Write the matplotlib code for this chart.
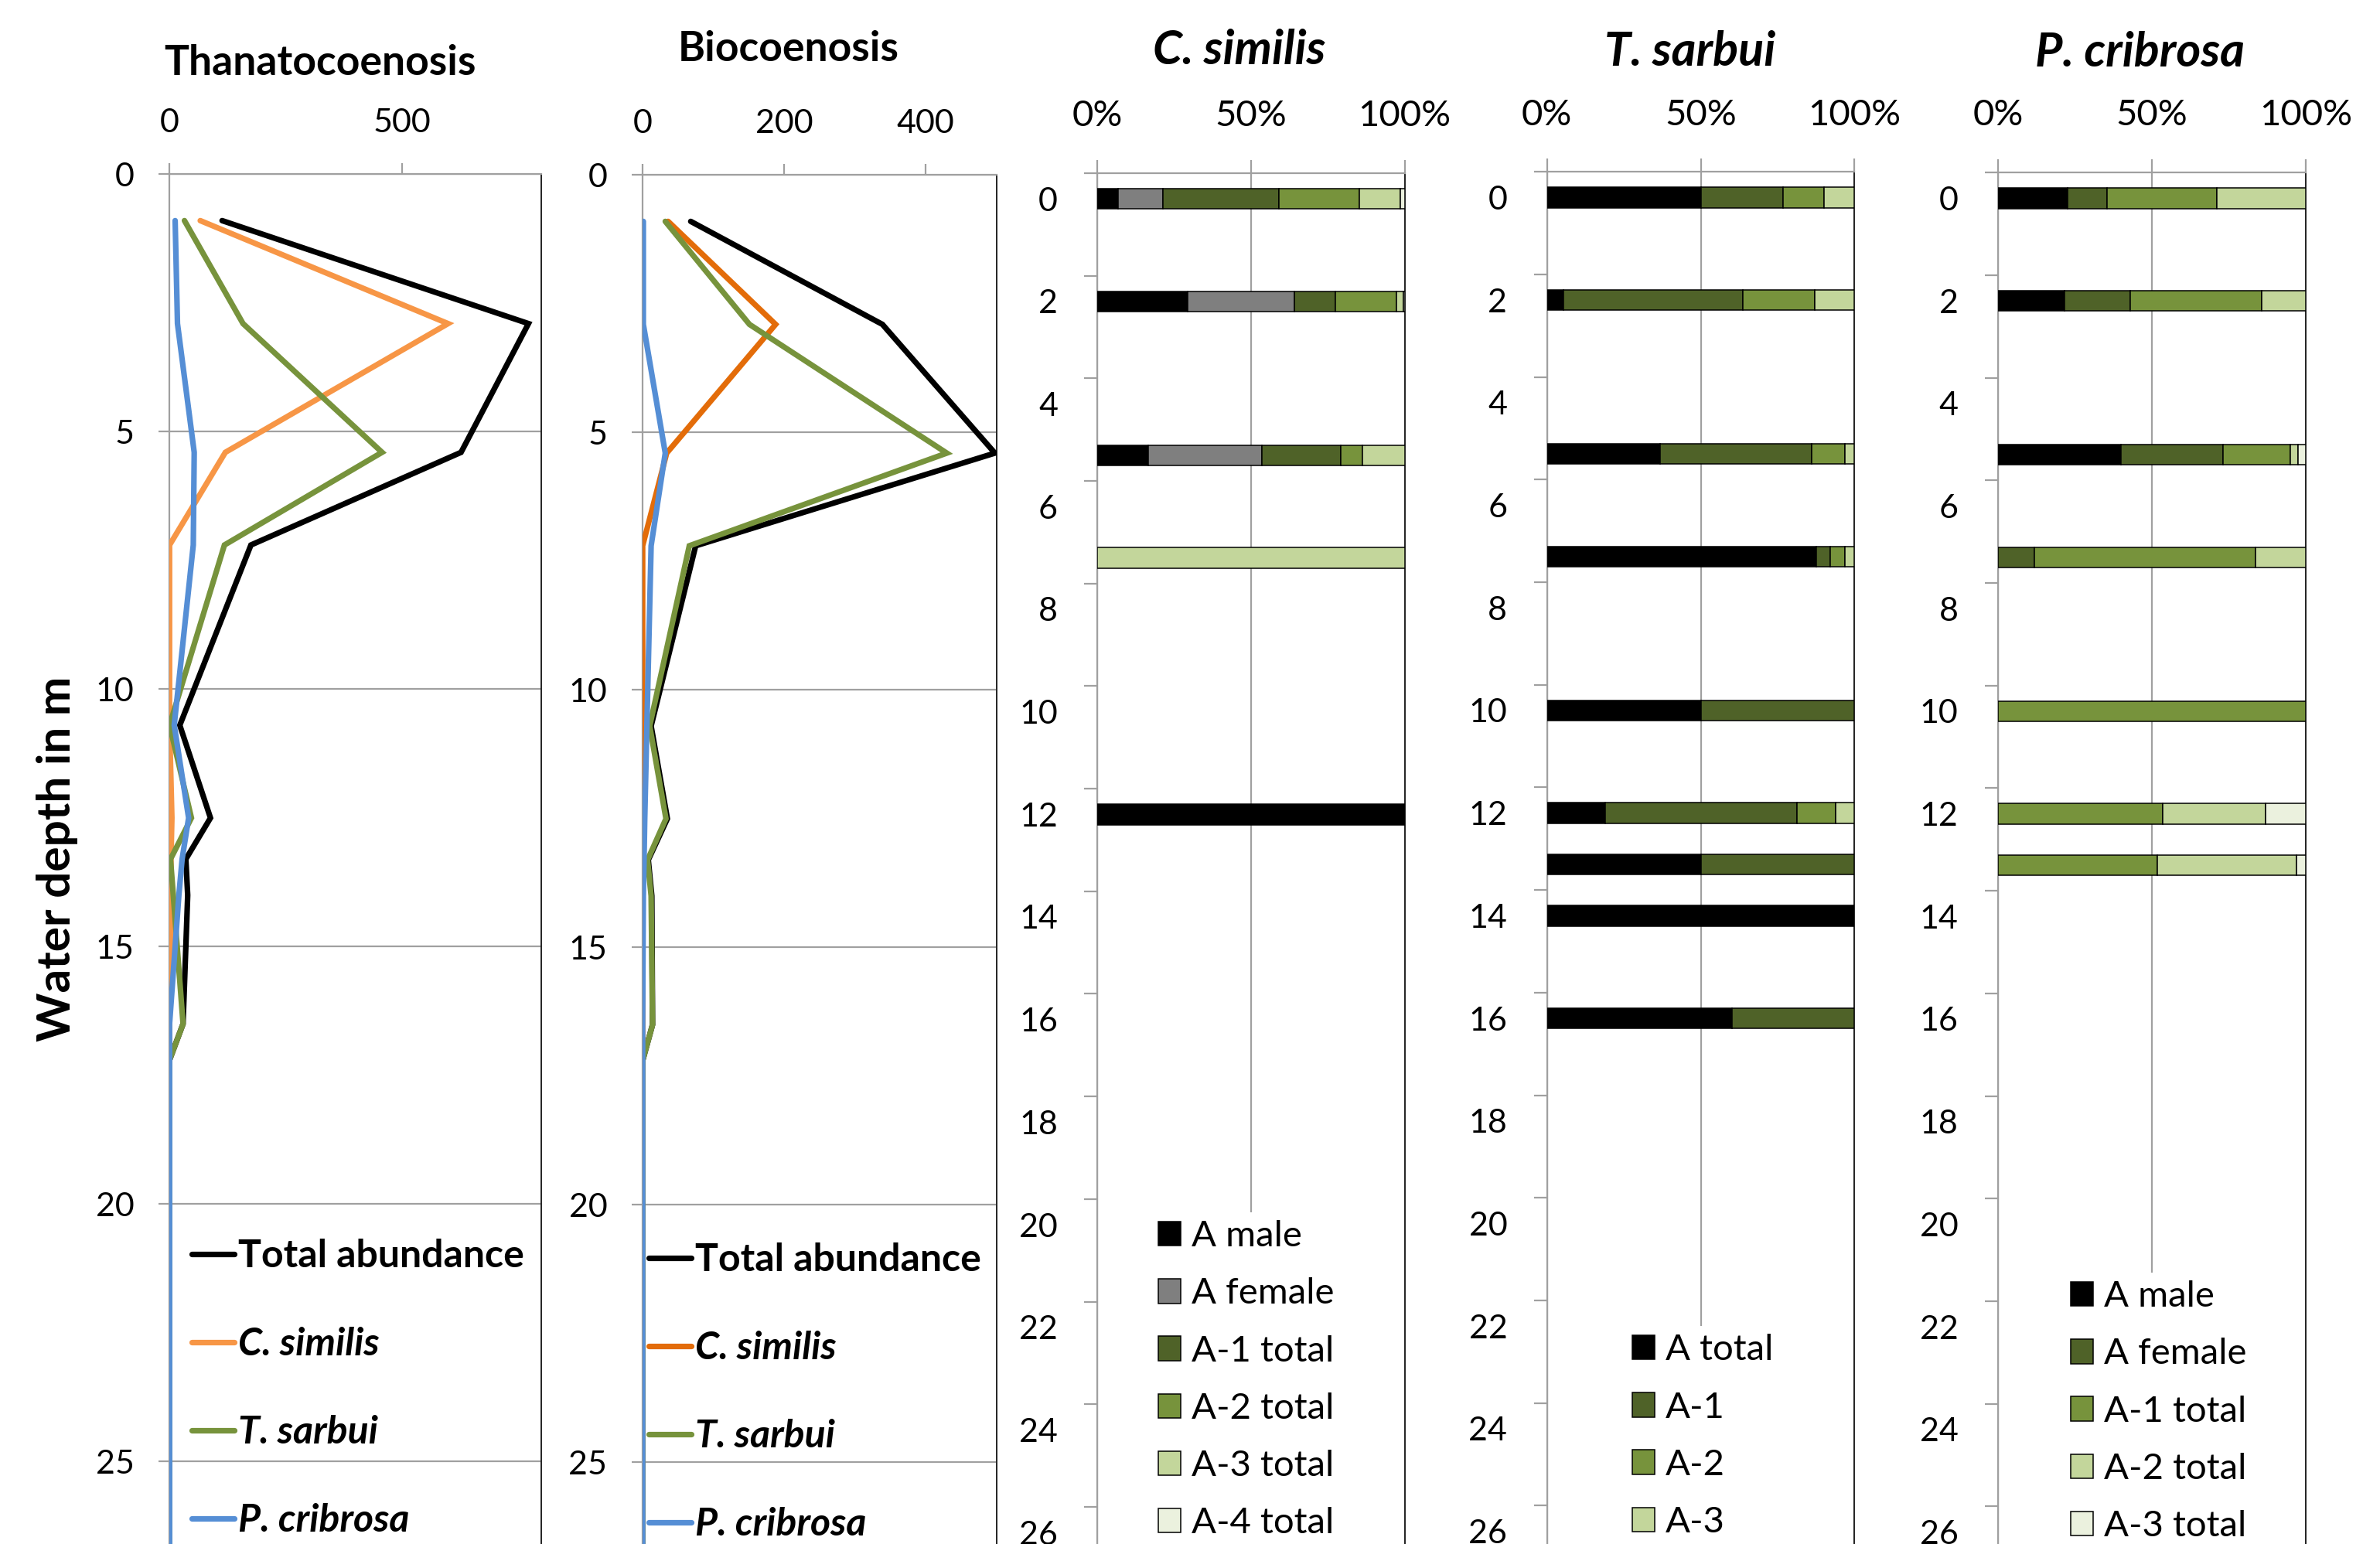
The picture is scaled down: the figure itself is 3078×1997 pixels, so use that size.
import matplotlib
matplotlib.use("Agg")
import matplotlib.pyplot as plt
import numpy as np
from matplotlib.ticker import FixedLocator

plt.rcParams['font.family'] = ['Lato', 'DejaVu Sans']

# abundance profiles (individuals) against sample water depth in m
depth_m = [0.9, 2.9, 5.4, 7.2, 10.7, 12.5, 13.3, 14.0, 16.5, 17.2, 30.0]

thanato_total = [113, 772, 627, 175, 22, 88, 35, 39, 29, 0, 0]
thanato_similis = [66, 599, 120, 0, 0, 5, 3, 3, 0, 0, 0]
thanato_sarbui = [32, 158, 457, 118, 0, 47, 2, 8, 29, 0, 0]
thanato_cribrosa = [12, 17, 53, 51, 10, 41, 27, 20, 0, 0, 0]

bio_total = [68, 339, 498, 75, 12, 35, 8, 13, 14, 0, 0]
bio_similis = [36, 188, 34, 0, 0, 0, 0, 0, 0, 0, 0]
bio_sarbui = [32, 151, 430, 66, 10, 33, 7, 12, 14, 0, 0]
bio_cribrosa = [1, 1, 32, 12, 6, 3, 2, 1, 0, 0, 0]

line_labels = ['Total abundance', 'C. similis', 'T. sarbui', 'P. cribrosa']

# stage composition (%) per sampling depth, one row per stage
similis_depth = [0, 2, 5, 7, 12]
similis_stages = ['A male', 'A female', 'A-1 total', 'A-2 total', 'A-3 total', 'A-4 total']
similis_pct = [
    [6.7, 29.4, 16.4, 0, 100],
    [14.5, 34.8, 37.1, 0, 0],
    [37.8, 13.3, 25.7, 0, 0],
    [26.3, 19.8, 7.0, 0, 0],
    [13.2, 2.3, 13.8, 100, 0],
    [1.5, 0.4, 0, 0, 0],
]

sarbui_depth = [0, 2, 5, 7, 10, 12, 13, 14, 16]
sarbui_stages = ['A total', 'A-1', 'A-2', 'A-3']
sarbui_pct = [
    [50.0, 5.3, 36.8, 87.6, 50, 18.9, 50, 100, 60.2],
    [26.7, 58.3, 49.3, 4.5, 50, 62.5, 50, 0, 39.8],
    [13.3, 23.5, 10.9, 4.8, 0, 12.5, 0, 0, 0],
    [10.0, 12.9, 3.0, 3.1, 0, 6.1, 0, 0, 0],
]

cribrosa_depth = [0, 2, 5, 7, 10, 12, 13]
cribrosa_stages = ['A male', 'A female', 'A-1 total', 'A-2 total', 'A-3 total']
cribrosa_pct = [
    [22.7, 21.5, 40.0, 0, 0, 0, 0],
    [12.7, 21.4, 33.2, 11.7, 0, 0, 0],
    [35.6, 42.9, 21.8, 72.1, 100, 53.4, 51.7],
    [29.0, 14.2, 2.5, 16.2, 0, 33.5, 45.3],
    [0, 0, 2.5, 0, 0, 13.1, 3.0],
]

BLACK = '#000000'
GREY = '#7F7F7F'
DARK_GREEN = '#4F6228'
GREEN = '#77933C'
LIGHT_GREEN = '#C3D69B'
PALE_GREEN = '#EBF1DE'
AXIS_GREY = '#A0A0A0'

W, H = 3078, 1997
fig = plt.figure(figsize=(W / 100, H / 100), dpi=100)


def rect(left, right, top):
    # pixel box (panels run off the bottom edge) -> figure fraction
    return [left / W, 0, (right - left) / W, (H - top) / H]


def style_frame(ax):
    for side in ('left', 'top'):
        ax.spines[side].set_color(AXIS_GREY)
        ax.spines[side].set_linewidth(1.6)
    ax.spines['right'].set_color('#222222')
    ax.spines['right'].set_linewidth(1.4)
    ax.spines['bottom'].set_visible(False)
    ax.xaxis.tick_top()


def profile_panel(box, top, xmax, xticks, series, colors, legend_xy):
    ax = fig.add_axes(rect(*box, top))
    for vals, col, lab in zip(series, colors, line_labels):
        ax.plot(vals, depth_m, color=col, lw=5.2, label=lab,
                solid_capstyle='round', solid_joinstyle='miter', zorder=3)
    ax.set_xlim(0, xmax)
    ax.set_ylim((H - top) / 66.6, 0)
    ax.set_xticks(xticks)
    ax.set_yticks(range(0, 30, 5))
    ax.yaxis.grid(True, color=AXIS_GREY, lw=1.6)
    ax.set_axisbelow(True)
    style_frame(ax)
    ax.tick_params(axis='x', direction='out', length=10, width=1.6, color=AXIS_GREY,
                   pad=24, labelsize=31)
    ax.tick_params(axis='y', direction='out', length=10, width=1.6, color=AXIS_GREY,
                   pad=23, labelsize=31)
    leg = ax.legend(loc='upper left', bbox_to_anchor=(legend_xy[0] / W, 1 - legend_xy[1] / H),
                    bbox_transform=fig.transFigure, frameon=False, fontsize=36,
                    handlelength=1.1, handletextpad=0.1, labelspacing=1.38,
                    borderpad=0, borderaxespad=0)
    for i, txt in enumerate(leg.get_texts()):
        txt.set_fontweight('bold')
        if i > 0:
            txt.set_fontstyle('italic')
    return ax


def stage_panel(box, top, depths, stages, pct, colors, legend_xy):
    ax = fig.add_axes(rect(*box, top))
    pct = np.array(pct, dtype=float)
    pct = pct / pct.sum(axis=0) * 100
    depths = np.array(depths)
    left = np.zeros(len(depths))
    for name, row, col in zip(stages, pct, colors):
        keep = row > 0
        ax.barh(depths[keep], row[keep], left=left[keep], height=0.4, color=col,
                edgecolor='black', linewidth=1.1, label=name, zorder=3)
        left += row
    ax.set_xlim(0, 100)
    ax.set_ylim(-0.5 + (H - top) / 66.35, -0.5)
    ax.set_xticks([0, 50, 100])
    ax.set_xticklabels(['0%', '50%', '100%'])
    ax.set_yticks(range(0, 28, 2))
    ax.yaxis.set_minor_locator(FixedLocator(np.arange(-0.5, 27, 2)))
    ax.xaxis.grid(True, color=AXIS_GREY, lw=1.6)
    ax.set_axisbelow(True)
    style_frame(ax)
    ax.tick_params(axis='x', direction='out', length=12, width=1.6, color=AXIS_GREY,
                   pad=26, labelsize=34)
    ax.tick_params(axis='y', which='major', length=0, pad=37, labelsize=31)
    ax.tick_params(axis='y', which='minor', direction='out', length=12, width=1.6,
                   color=AXIS_GREY)
    leg = ax.legend(loc='upper left', bbox_to_anchor=(legend_xy[0] / W, 1 - legend_xy[1] / H),
                    bbox_transform=fig.transFigure, frameon=True, fontsize=34,
                    handlelength=0.6, handleheight=0.64, handletextpad=0.3,
                    labelspacing=0.68, borderpad=0.22, borderaxespad=0)
    leg.get_frame().set_facecolor('white')
    leg.get_frame().set_edgecolor('none')
    leg.get_frame().set_alpha(1)
    leg.set_zorder(5)
    return ax


line_colors_thanato = [BLACK, '#F79646', GREEN, '#558ED5']
line_colors_bio = [BLACK, '#E36C09', GREEN, '#558ED5']

profile_panel((219.3, 700.3), 225.4, 800, [0, 500],
              [thanato_total, thanato_similis, thanato_sarbui, thanato_cribrosa],
              line_colors_thanato, (248, 1602))
profile_panel((831.1, 1288.5), 226.4, 500, [0, 200, 400],
              [bio_total, bio_similis, bio_sarbui, bio_cribrosa],
              line_colors_bio, (839, 1607))

stage_panel((1419.4, 1816.6), 223.9, similis_depth, similis_stages, similis_pct,
            [BLACK, GREY, DARK_GREEN, GREEN, LIGHT_GREEN, PALE_GREEN], (1488, 1568))
stage_panel((2000.7, 2398.3), 222.3, sarbui_depth, sarbui_stages, sarbui_pct,
            [BLACK, DARK_GREEN, GREEN, LIGHT_GREEN], (2101, 1715))
stage_panel((2584.1, 2981.9), 223.2, cribrosa_depth, cribrosa_stages, cribrosa_pct,
            [BLACK, DARK_GREEN, GREEN, LIGHT_GREEN, PALE_GREEN], (2668, 1646))

# panel headings
fig.text(414 / W, 1 - 97 / H, 'Thanatocoenosis', ha='center', va='baseline',
         fontsize=38.5, fontweight='bold')
fig.text(1020 / W, 1 - 79 / H, 'Biocoenosis', ha='center', va='baseline',
         fontsize=38.5, fontweight='bold')
for x, y, name in [(1603, 83, 'C. similis'), (2186, 85, 'T. sarbui'),
                   (2768, 86, 'P. cribrosa')]:
    fig.text(x / W, 1 - y / H, name, ha='center', va='baseline',
             fontsize=44, fontweight='bold', fontstyle='italic')

fig.text(74 / W, 1 - 1111 / H, 'Water depth in m', rotation=90, ha='center',
         va='center', fontsize=43.5, fontweight='bold')

fig.savefig('out.png', dpi=100, facecolor='white')
